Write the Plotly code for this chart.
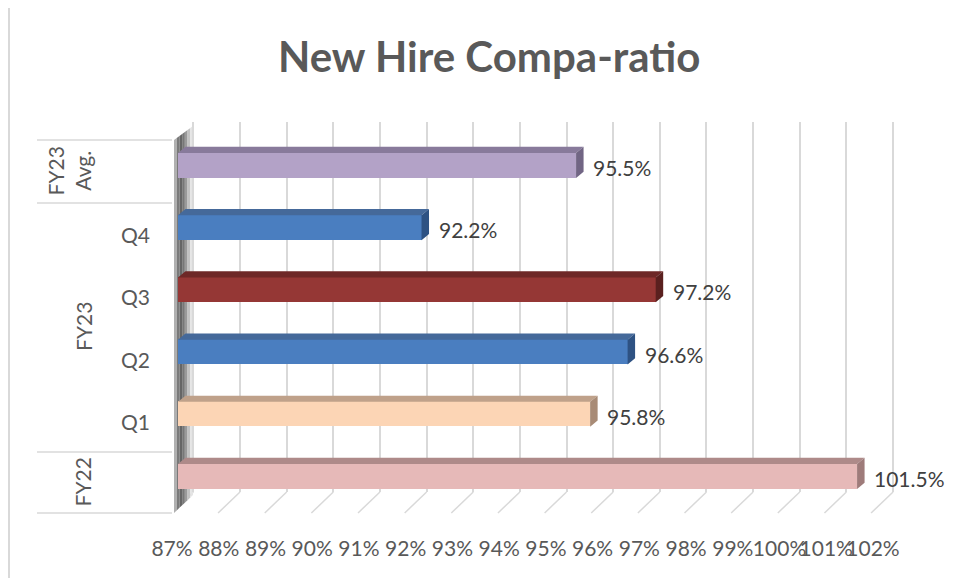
import plotly.graph_objects as go

# the page body adds an 8px margin; compensate so the picture lines up
OFF = 8
W, H = 958 - OFF, 578 - OFF


def fx(p):
    return (p - OFF) / W


def fy(p):
    return 1 - (p - OFF) / H


# ---------------- data ----------------
categories = ["FY22", "Q1", "Q2", "Q3", "Q4", "FY23 Avg."]
sub_labels = ["", "Q1", "Q2", "Q3", "Q4", ""]
values = [101.5, 95.8, 96.6, 97.2, 92.2, 95.5]
group_labels = ["FY22", "FY23", "FY23<br>Avg."]
group_centers = [0, 2.5, 5]
tick_values = list(range(87, 103))
tick_labels = [f"{v}%" for v in tick_values]
x_min, x_max = 87, 102

# ---------------- style ----------------
FONT = "Lato, 'Open Sans', sans-serif"
front_colors = ["#E6B9B8", "#FCD5B5", "#4A7EC0", "#953735", "#4A7EC0", "#B3A2C7"]
top_colors = ["#AE8A89", "#BFA18A", "#45699A", "#6E2827", "#45699A", "#887A9B"]
side_colors = ["#9E7B7A", "#A88B76", "#2E5283", "#5A201F", "#2E5283", "#716584"]
BAR_W = 0.40
DX = 0.16   # depth offset in x (data units)
DY = 0.10   # depth offset in y (category units)
GRID = "#D9D9D9"

positions = list(range(len(categories)))

fig = go.Figure()

# grid subplot (back wall)
fig.add_trace(go.Scatter(x=[x_min, x_max], y=[0, 1], mode="markers",
                         marker=dict(opacity=0), hoverinfo="skip",
                         showlegend=False, xaxis="x", yaxis="y"))
# bars
fig.add_trace(go.Bar(x=values, y=positions, orientation="h", width=BAR_W,
                     marker=dict(color=front_colors, line=dict(width=0)),
                     hoverinfo="skip", showlegend=False,
                     xaxis="x2", yaxis="y2"))
# tick-label axis holder
fig.add_trace(go.Scatter(x=[x_min], y=[0], mode="markers",
                         marker=dict(opacity=0), hoverinfo="skip",
                         showlegend=False, xaxis="x3", yaxis="y2"))

shapes = []
annotations = []

# outer border
shapes.append(dict(type="line", xref="paper", yref="paper",
                   x0=fx(9), x1=fx(9), y0=fy(5), y1=fy(590),
                   line=dict(color=GRID, width=2), layer="below"))
shapes.append(dict(type="line", xref="paper", yref="paper",
                   x0=fx(8), x1=fx(970), y0=fy(5.5), y1=fy(5.5),
                   line=dict(color=GRID, width=1.5), layer="below"))

# floor diagonals
for t in tick_values:
    shapes.append(dict(type="line", xref="x", yref="paper",
                       x0=t, y0=fy(492), x1=t - 0.47, y1=fy(513),
                       line=dict(color=GRID, width=1.5), layer="below"))

# side wall (shadowed)
wall_colors = ["#b0b0b0", "#7a7a7a", "#666666", "#777777", "#9a9a9a",
               "#c2c2c2", "#e4e4e4"]
L, R = 174.0, 193.0
n = len(wall_colors)
for k, c in enumerate(wall_colors):
    xa = L + k * (R - L) / n
    xb = L + (k + 1) * (R - L) / n
    ta = 140 + (126 - 140) * (xa - L) / (R - L)
    tb = 140 + (126 - 140) * (xb - L) / (R - L)
    ba = 513 + (495 - 513) * (xa - L) / (R - L)
    bb = 513 + (495 - 513) * (xb - L) / (R - L)
    path = (f"M {fx(xa)},{fy(ta)} L {fx(xb)},{fy(tb)} "
            f"L {fx(xb)},{fy(bb)} L {fx(xa)},{fy(ba)} Z")
    shapes.append(dict(type="path", xref="paper", yref="paper", path=path,
                       fillcolor=c, line=dict(width=0), layer="below"))

# category-area dividers
for py in [140, 203, 452, 513]:
    shapes.append(dict(type="line", xref="paper", yref="paper",
                       x0=fx(37), x1=fx(172), y0=fy(py), y1=fy(py),
                       line=dict(color=GRID, width=1.5), layer="below"))

# 3D faces of bars
for p, v, tc, sc in zip(positions, values, top_colors, side_colors):
    yt = p + BAR_W / 2
    yb = p - BAR_W / 2
    top = (f"M {x_min},{yt} L {x_min + DX},{yt + DY} "
           f"L {v + DX},{yt + DY} L {v},{yt} Z")
    side = (f"M {v},{yt} L {v + DX},{yt + DY} "
            f"L {v + DX},{yb + DY} L {v},{yb} Z")
    shapes.append(dict(type="path", xref="x2", yref="y2", path=top,
                       fillcolor=tc, line=dict(width=0), layer="above"))
    shapes.append(dict(type="path", xref="x2", yref="y2", path=side,
                       fillcolor=sc, line=dict(width=0), layer="above"))
    annotations.append(dict(x=v, y=p, xref="x2", yref="y2",
                            text=f"{v:.1f}%", showarrow=False,
                            xanchor="left", yanchor="middle",
                            xshift=15, yshift=-2,
                            font=dict(family=FONT, size=21, color="#404040")))

# sub-category labels
for p, s in zip(positions, sub_labels):
    if s:
        annotations.append(dict(x=fx(135.5), y=p, xref="paper", yref="y2",
                                text=s, showarrow=False, xanchor="center",
                                yanchor="middle", yshift=-7,
                                font=dict(family=FONT, size=21,
                                          color="#595959")))

# group labels (rotated)
group_x = [82, 83, 68]
for g, c, gx in zip(group_labels, group_centers, group_x):
    annotations.append(dict(x=fx(gx), y=c, xref="paper", yref="y2",
                            text=g, showarrow=False, textangle=-90,
                            xanchor="center", yanchor="middle", yshift=-6,
                            font=dict(family=FONT, size=21, color="#595959")))

# title
annotations.append(dict(x=fx(489), y=fy(56), xref="paper", yref="paper",
                        text="<b>New Hire Compa-ratio</b>", showarrow=False,
                        xanchor="center", yanchor="middle",
                        font=dict(family=FONT, size=42, color="#595959")))

fig.update_layout(
    width=W, height=H,
    margin=dict(l=0, r=0, t=0, b=0, pad=0, autoexpand=False),
    paper_bgcolor="white", plot_bgcolor="rgba(0,0,0,0)",
    showlegend=False, bargap=0,
    xaxis=dict(domain=[fx(188.7), fx(897.7)], range=[86.9, 102.1],
               tickvals=tick_values, showgrid=True, gridcolor=GRID,
               gridwidth=1.5, showticklabels=False, zeroline=False,
               showline=False, ticks="", anchor="y", fixedrange=True,
               automargin=False),
    yaxis=dict(domain=[fy(492), fy(122)], range=[0, 1], visible=False,
               anchor="x", fixedrange=True, automargin=False),
    xaxis2=dict(domain=[fx(178), fx(880.5)], range=[x_min, x_max],
                visible=False, anchor="y2", fixedrange=True,
                automargin=False),
    yaxis2=dict(domain=[fy(507.6), fy(134.4)], range=[-0.5, 5.5],
                visible=False, anchor="x2", fixedrange=True,
                automargin=False),
    xaxis3=dict(domain=[fx(172), fx(873)], range=[x_min, x_max],
                tickvals=tick_values, ticktext=tick_labels, showgrid=False,
                zeroline=False, showline=False, ticks="", anchor="free",
                position=fy(534), fixedrange=True, tickangle=0,
                automargin=False,
                tickfont=dict(family=FONT, size=21, color="#595959")),
    shapes=shapes,
    annotations=annotations,
)

fig.write_html("out.html")
